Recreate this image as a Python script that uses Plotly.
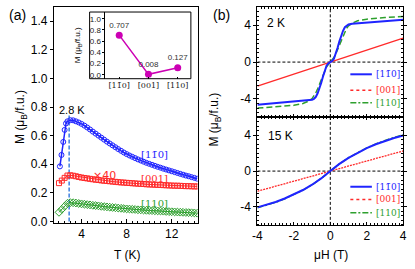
import plotly.graph_objects as go

W, H = 415, 269
def fx(p): return p / W
def fy(p): return 1 - p / H

BAR = "[1" + "1\u0304" + "0]"
CAT_LABELS = [BAR, "[001]", "[110]"]
INSET_VALUES = [0.707, 0.008, 0.127]
INSET_TEXT = ["0.707", "0.008", "0.127"]

# ---- panel (a): M(T) ----
T_bar_low = [2.08, 2.22, 2.38, 2.50, 2.62]
M_bar_low = [0.385, 0.465, 0.556, 0.640, 0.685]
T_bar = [2.75, 3.00, 3.25, 3.50, 3.75, 4.00, 4.25, 4.50, 4.75, 5.00, 5.25, 5.50, 5.75, 6.00,
         6.25, 6.50, 6.75, 7.00, 7.25, 7.50, 7.75, 8.00, 8.25, 8.50, 8.75, 9.00, 9.25, 9.50,
         9.75, 10.00, 10.25, 10.50, 10.75, 11.00, 11.25, 11.50, 11.75, 12.00, 12.25, 12.50,
         12.75, 13.00, 13.25, 13.50, 13.75, 14.00, 14.25]
M_bar = [0.700, 0.708, 0.707, 0.700, 0.692, 0.682, 0.670, 0.657, 0.643, 0.628, 0.614, 0.600,
         0.586, 0.572, 0.558, 0.545, 0.532, 0.519, 0.506, 0.494, 0.482, 0.471, 0.461, 0.452,
         0.443, 0.434, 0.426, 0.418, 0.410, 0.403, 0.396, 0.389, 0.382, 0.376, 0.369, 0.363,
         0.357, 0.351, 0.345, 0.339, 0.333, 0.327, 0.321, 0.316, 0.310, 0.305, 0.299]
T_other = [2.00, 2.25, 2.50, 2.75, 3.00, 3.25, 3.50, 3.75, 4.00, 4.25, 4.50, 4.75, 5.00, 5.25,
           5.50, 5.75, 6.00, 6.25, 6.50, 6.75, 7.00, 7.25, 7.50, 7.75, 8.00, 8.25, 8.50, 8.75,
           9.00, 9.25, 9.50, 9.75, 10.00, 10.25, 10.50, 10.75, 11.00, 11.25, 11.50, 11.75,
           12.00, 12.25, 12.50, 12.75, 13.00, 13.25, 13.50, 13.75, 14.00, 14.25]
M_001x40 = [0.268, 0.286, 0.305, 0.321, 0.323, 0.320, 0.316, 0.311, 0.307, 0.304, 0.301, 0.298,
            0.295, 0.292, 0.290, 0.287, 0.285, 0.283, 0.281, 0.279, 0.277, 0.275, 0.273, 0.272,
            0.270, 0.269, 0.267, 0.266, 0.264, 0.263, 0.262, 0.260, 0.259, 0.258, 0.257, 0.256,
            0.255, 0.254, 0.253, 0.252, 0.251, 0.250, 0.250, 0.249, 0.248, 0.247, 0.247, 0.246,
            0.245, 0.245]
M_110 = [0.064, 0.085, 0.106, 0.127, 0.132, 0.131, 0.129, 0.126, 0.123, 0.121, 0.118, 0.116,
         0.113, 0.111, 0.109, 0.106, 0.104, 0.102, 0.100, 0.098, 0.096, 0.094, 0.092, 0.090,
         0.088, 0.087, 0.085, 0.084, 0.082, 0.081, 0.080, 0.078, 0.077, 0.076, 0.075, 0.074,
         0.073, 0.072, 0.070, 0.069, 0.068, 0.067, 0.066, 0.065, 0.064, 0.063, 0.062, 0.061,
         0.060, 0.058]
T_PEAK_LINE = 2.9

# ---- panel (b): M(H) ----
H_2K = [-4, -3, -2, -1.5, -1.2, -1.0, -0.9, -0.8, -0.7, -0.6, -0.5, -0.4, -0.3, -0.2, -0.1, 0,
        0.1, 0.2, 0.3, 0.4, 0.5, 0.6, 0.7, 0.8, 0.9, 1.0, 1.2, 1.5, 2, 3, 4]
M2K_bar = [-4.64, -4.47, -4.31, -4.24, -4.18, -4.09, -3.99, -3.80, -3.42, -2.92, -2.27, -1.57,
           -0.87, -0.36, -0.13, 0.0, 0.12, 0.35, 0.85, 1.55, 2.25, 2.90, 3.40, 3.78, 3.98,
           4.08, 4.17, 4.22, 4.29, 4.44, 4.59]
M2K_110 = [-5.00, -4.86, -4.70, -4.50, -4.25, -3.96, -3.70, -3.36, -2.92, -2.42, -1.87, -1.37,
           -0.92, -0.51, -0.23, 0.0, 0.22, 0.50, 0.90, 1.35, 1.85, 2.40, 2.90, 3.33, 3.68,
           3.93, 4.22, 4.48, 4.66, 4.83, 4.96]
H_lin = [-4, -2, 0, 2, 4]
M2K_001 = [-2.60, -1.30, 0.0, 1.30, 2.60]
H_15K = [-4, -3.5, -3, -2.5, -2, -1.5, -1, -0.5, 0, 0.5, 1, 1.5, 2, 2.5, 3, 3.5, 4]
M15K_bar = [-4.05, -3.78, -3.45, -3.06, -2.62, -2.11, -1.52, -0.82, 0.0, 0.80, 1.48, 2.06,
            2.56, 3.00, 3.38, 3.70, 3.97]
M15K_110 = [-4.10, -3.82, -3.48, -3.08, -2.63, -2.12, -1.53, -0.82, 0.0, 0.80, 1.49, 2.08,
            2.59, 3.04, 3.43, 3.76, 4.05]
M15K_001 = [-2.25, -1.12, 0.0, 1.12, 2.25]

BLUE = "#1f24ff"
RED = "#ff2a2a"
GREEN = "#2ea02e"
MAG = "#cc00b4"
SANS = "Liberation Sans, Arial, sans-serif"
SERIF = "DejaVu Serif, Liberation Serif, serif"

fig = go.Figure()

# panel (a)
fig.add_trace(go.Scatter(x=T_bar_low + T_bar, y=M_bar_low + M_bar, mode="lines+markers",
                         line=dict(color=BLUE, width=1.5),
                         marker=dict(symbol="circle-open", size=5, color=BLUE, line=dict(width=1)),
                         xaxis="x", yaxis="y"))
fig.add_trace(go.Scatter(x=T_other, y=M_001x40, mode="lines+markers",
                         line=dict(color=RED, width=1),
                         marker=dict(symbol="square-open", size=5, color=RED, line=dict(width=1)),
                         xaxis="x", yaxis="y"))
fig.add_trace(go.Scatter(x=T_other, y=M_110, mode="lines+markers",
                         line=dict(color=GREEN, width=1),
                         marker=dict(symbol="diamond-open", size=6, color=GREEN, line=dict(width=1)),
                         xaxis="x", yaxis="y"))

# inset
fig.add_trace(go.Scatter(x=[0, 1, 2], y=INSET_VALUES, mode="lines+markers+text",
                         text=INSET_TEXT, textposition="top center",
                         textfont=dict(size=8, family=SANS, color="#333"),
                         line=dict(color=MAG, width=1.5),
                         marker=dict(symbol="circle", size=7, color=MAG),
                         xaxis="x2", yaxis="y2", cliponaxis=False))

# panel (b) 2 K
fig.add_trace(go.Scatter(x=H_lin, y=M2K_001, mode="lines", line=dict(color=RED, width=1.3),
                         xaxis="x3", yaxis="y3"))
fig.add_trace(go.Scatter(x=H_2K, y=M2K_110, mode="lines",
                         line=dict(color=GREEN, width=1.5, dash="6px,3px"),
                         xaxis="x3", yaxis="y3"))
fig.add_trace(go.Scatter(x=H_2K, y=M2K_bar, mode="lines", line=dict(color=BLUE, width=2),
                         xaxis="x3", yaxis="y3"))
# panel (b) 15 K
fig.add_trace(go.Scatter(x=H_lin, y=M15K_001, mode="lines",
                         line=dict(color=RED, width=1.3, dash="2px,1px"),
                         xaxis="x4", yaxis="y4"))
fig.add_trace(go.Scatter(x=H_15K, y=M15K_110, mode="lines",
                         line=dict(color=GREEN, width=1.5, dash="6px,2px,2px,2px"),
                         xaxis="x4", yaxis="y4"))
fig.add_trace(go.Scatter(x=H_15K, y=M15K_bar, mode="lines", line=dict(color=BLUE, width=2),
                         xaxis="x4", yaxis="y4"))

axcommon = dict(showline=True, linecolor="black", linewidth=1, showgrid=False, zeroline=False,
                tickcolor="black", tickfont=dict(family=SANS, size=12, color="black"))

fig.update_layout(
    width=W, height=H, margin=dict(l=0, r=0, t=0, b=0),
    paper_bgcolor="white", plot_bgcolor="white", showlegend=False, hovermode=False,
    xaxis=dict(axcommon, domain=[fx(50), fx(197)], anchor="y", range=[1.55, 14.3],
               tickvals=[4, 8, 12], ticks="inside", ticklen=4, mirror=True,
               minor=dict(dtick=0.5, tick0=0, ticks="inside", ticklen=2, tickcolor="black")),
    yaxis=dict(axcommon, domain=[fy(228), fy(7)], anchor="x", range=[-0.01, 1.5],
               tickvals=[0, 0.2, 0.4, 0.6, 0.8, 1.0, 1.2, 1.4], tickformat=".1f",
               ticks="outside", ticklen=3, mirror=True),
    xaxis2=dict(axcommon, domain=[fx(102.7), fx(190)], anchor="y2", range=[-0.47, 2.45],
                tickvals=[0, 1, 2], ticktext=CAT_LABELS, showline=False,
                ticks="inside", ticklen=2,
                tickfont=dict(family=SERIF, size=8, color="#222")),
    yaxis2=dict(axcommon, domain=[fy(80.5), fy(12.3)], anchor="x2", range=[-0.07, 1.12],
                tickvals=[0, 0.2, 0.4, 0.6, 0.8, 1.0], tickformat=".1f",
                ticks="outside", ticklen=2,
                tickfont=dict(family=SANS, size=8, color="#222")),
    xaxis3=dict(axcommon, domain=[fx(258), fx(407)], anchor="y3", range=[-4, 4],
                tickvals=[-4, -2, 0, 2, 4], showticklabels=False, ticks="inside", ticklen=3,
                mirror="ticks",
                minor=dict(dtick=0.2, tick0=0, ticks="inside", ticklen=2, tickcolor="black")),
    yaxis3=dict(axcommon, domain=[fy(120), fy(7)], anchor="x3", range=[-6, 6],
                tickvals=[-4, 0, 4], ticktext=["-4", "0", "4"], ticks="outside", ticklen=3,
                mirror="ticks",
                minor=dict(dtick=0.5, tick0=0, ticks="inside", ticklen=2, tickcolor="black")),
    xaxis4=dict(axcommon, domain=[fx(258), fx(407)], anchor="y4", range=[-4, 4],
                tickvals=[-4, -2, 0, 2, 4], ticktext=["-4", "-2", "0", "2", "4"],
                ticks="inside", ticklen=3, mirror="ticks",
                minor=dict(dtick=0.2, tick0=0, ticks="inside", ticklen=2, tickcolor="black")),
    yaxis4=dict(axcommon, domain=[fy(230), fy(120)], anchor="x4", range=[-6, 6],
                tickvals=[-4, 0, 4], ticktext=["-4", "0", "4"], ticks="outside", ticklen=3,
                mirror="ticks",
                minor=dict(dtick=0.5, tick0=0, ticks="inside", ticklen=2, tickcolor="black")),
)

shapes = []
# inset frame
shapes.append(dict(type="rect", xref="paper", yref="paper", x0=fx(86.5), x1=fx(190),
                   y0=fy(80.5), y1=fy(12.3), line=dict(color="black", width=1)))
# dashed vertical line at peak
shapes.append(dict(type="line", xref="x", yref="y", x0=T_PEAK_LINE, x1=T_PEAK_LINE,
                   y0=0, y1=0.74, line=dict(color="#3d7fe0", width=1.5, dash="4px,2px"),
                   layer="below"))
# zero lines in panel b
for xa, ya in (("x3", "y3"), ("x4", "y4")):
    shapes.append(dict(type="line", xref=xa, yref=ya, x0=-4, x1=4, y0=0, y1=0,
                       line=dict(color="black", width=1, dash="3px,2px"), layer="below"))
    shapes.append(dict(type="line", xref=xa, yref=ya, x0=0, x1=0, y0=-6, y1=6,
                       line=dict(color="black", width=1, dash="3px,2px"), layer="below"))

annotations = []
def ann(x, y, text, size=12, color="black", family=SANS, xanchor="center", angle=0):
    annotations.append(dict(x=fx(x), y=fy(y), xref="paper", yref="paper", text=text,
                            showarrow=False, xanchor=xanchor, yanchor="middle",
                            textangle=angle, font=dict(size=size, color=color, family=family)))

# legends in panel b
legend_rows = [(76, 191, BLUE, "solid", 2, BAR),
               (92.3, 204, RED, "dot", 1.5, "[001]"),
               (105, 217.7, GREEN, "6px,2px,2px,2px", 1.5, "[110]")]
for ytop, ybot, col, dash, wd, lab in legend_rows:
    for yy in (ytop, ybot):
        shapes.append(dict(type="line", xref="paper", yref="paper", x0=fx(353), x1=fx(375),
                           y0=fy(yy), y1=fy(yy), line=dict(color=col, width=wd, dash=dash)))
        ann(377, yy, lab, size=9, color=col, family=SERIF, xanchor="left")

fig.update_layout(shapes=shapes)

ann(13, 15, "(a)", size=14)
ann(221, 15, "(b)", size=14)
ann(17, 120, "M (μ<sub>B</sub>/f.u.)", size=12, angle=-90)
ann(215, 122, "M (μ<sub>B</sub>/f.u.)", size=12, angle=-90)
ann(125, 261, "T (K)", size=12)
ann(333, 261, "μH (T)", size=12)
ann(75, 46, "M (μ<sub>B</sub>/f.u.)", size=8, angle=-90)
ann(68, 112, "2.8 K", size=11)
ann(153, 158, BAR, size=10, color=BLUE, family=SERIF)
ann(153, 183, "[001]", size=10, color=RED, family=SERIF)
ann(102, 179, "×40", size=11, color=RED, family="DejaVu Sans, sans-serif")
ann(153, 208, "[110]", size=10, color=GREEN, family=SERIF)
ann(277, 24, "2 K", size=12)
ann(282, 139, "15 K", size=12)

fig.update_layout(annotations=annotations)
fig.write_html("out.html", config={"displayModeBar": False, "staticPlot": True},
               post_script="document.body.style.margin='0';document.body.style.overflow='hidden';")
